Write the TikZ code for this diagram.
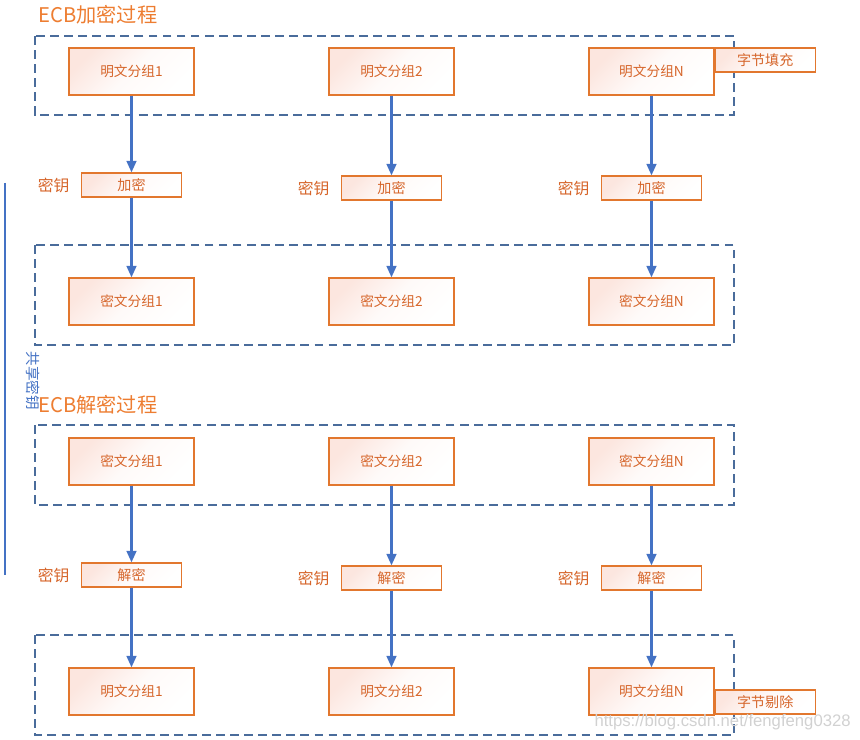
\documentclass[tikz,border=0pt]{standalone}
\usepackage{fontspec}
\setmainfont{Noto Sans CJK SC}
\newfontfamily\wmfont{Liberation Sans}
\usetikzlibrary{positioning,arrows.meta}
\definecolor{boxline}{HTML}{E2772E}
\definecolor{txtorange}{HTML}{D6652A}
\definecolor{titleorange}{HTML}{ED7D31}
\definecolor{dashblue}{HTML}{4A6C9B}
\definecolor{arrowblue}{HTML}{4472C4}
\definecolor{boxpink}{HTML}{FCE6DF}

\begin{document}
\begin{tikzpicture}[x=0.02cm, y=-0.02cm,
    blockbox/.style={draw=boxline, line width=0.7pt, top color=boxpink,
      bottom color=white, middle color=white!80!boxpink, shading angle=45, text=txtorange,
      font=\fontsize{7.8}{9}\selectfont, minimum width=2.5cm,
      minimum height=0.94cm, inner sep=0pt},
    opbox/.style={blockbox, minimum width=2cm, minimum height=0.48cm,
      font=\fontsize{8}{9}\selectfont},
    keylabel/.style={text=txtorange, font=\fontsize{9}{10}\selectfont, inner sep=0pt},
    title/.style={text=titleorange, font=\fontsize{11.5}{13}\selectfont,
      anchor=west, inner sep=0pt},
    groupframe/.style={draw=dashblue, line width=0.7pt, dash pattern=on 5pt off 3pt},
    flow/.style={draw=arrowblue, line width=1.3pt, -{Triangle[width=5.5pt,length=6.5pt]}}]

  \useasboundingbox (0,0) rectangle (860,740);

  % titles
  \node[title] (enc) at (38,15) {ECB加密过程};
  \node[title] (dec) at (38,405) {ECB解密过程};

  % dashed group frames
  \draw[groupframe] (35,36) rectangle (734,115);
  \draw[groupframe] (35,245) rectangle (734,345);
  \draw[groupframe] (35,425) rectangle (734,505);
  \draw[groupframe] (35,635) rectangle (734,735);

  % shared key line
  \draw[arrowblue, line width=1.3pt] (5,183) -- (5,575);
  \node[rotate=-90, text=arrowblue, font=\fontsize{8.3}{9}\selectfont, inner sep=0pt]
    (share) at (33,381) {共享密钥};

  % encryption
  \foreach \i/\x/\n/\yo in {1/131.5/1/185, 2/391.5/2/188, 3/651.5/N/188}
  {
    \node[blockbox] (ep\i) at (\x,71.5) {明文分组\n};
    \node[opbox] (eo\i) at (\x,\yo) {加密};
    \node[keylabel, left=0.22cm of eo\i] (ek\i) {密钥};
    \node[blockbox] (ec\i) at (\x,301.5) {密文分组\n};
    \draw[flow] (ep\i) -- (eo\i);
    \draw[flow] (eo\i) -- (ec\i);
  }
  \node[opbox, anchor=north west] (pad) at (ep3.north east) {字节填充};

  % decryption
  \foreach \i/\x/\n/\yo in {1/131.5/1/575, 2/391.5/2/578, 3/651.5/N/578}
  {
    \node[blockbox] (dc\i) at (\x,461.5) {密文分组\n};
    \node[opbox] (do\i) at (\x,\yo) {解密};
    \node[keylabel, left=0.22cm of do\i] (dk\i) {密钥};
    \node[blockbox] (dp\i) at (\x,691.5) {明文分组\n};
    \draw[flow] (dc\i) -- (do\i);
    \draw[flow] (do\i) -- (dp\i);
  }
  \node[opbox, anchor=south west] (strip) at ([yshift=0.02cm]dp3.south east) {字节剔除};

  % watermark
  \node[text=black!18, font=\wmfont\fontsize{9.5}{10}\selectfont, anchor=east, inner sep=0pt]
    (mark) at (851,722) {https://blog.csdn.net/fengfeng0328};

\end{tikzpicture}
\end{document}
